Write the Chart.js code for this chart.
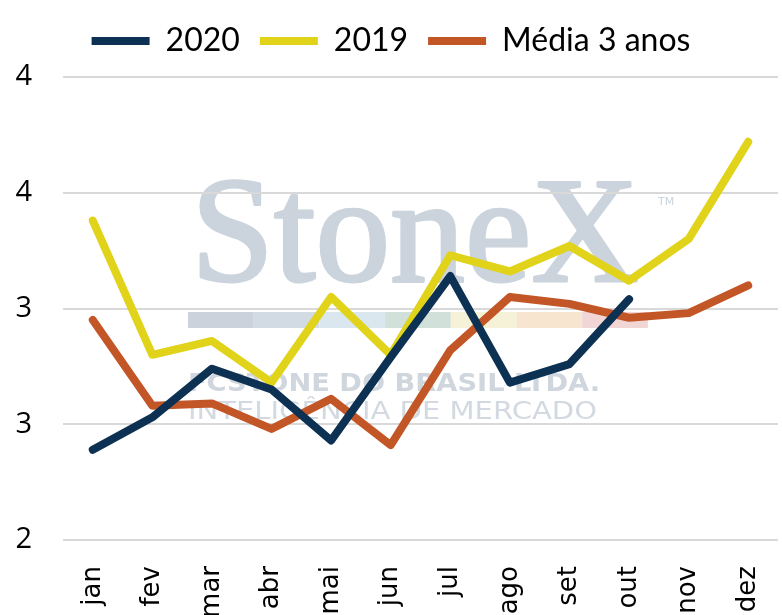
<!DOCTYPE html>
<html>
<head>
<meta charset="utf-8">
<script src="https://cdn.jsdelivr.net/npm/chart.js@4.4.1/dist/chart.umd.min.js"></script>
<style>
  html, body { margin: 0; padding: 0; background: #fff; overflow: hidden; }
  #wrap { width: 782px; height: 615px; }
</style>
</head>
<body>
<div id="wrap"><canvas id="grafico"></canvas></div>
<script>
// ============ DADOS ============
const meses = ['jan', 'fev', 'mar', 'abr', 'mai', 'jun', 'jul', 'ago', 'set', 'out', 'nov', 'dez'];
const serie2020 = [2.39, 2.53, 2.74, 2.65, 2.43, 2.79, 3.14, 2.68, 2.76, 3.04, null, null];
const serie2019 = [3.38, 2.80, 2.86, 2.68, 3.05, 2.80, 3.23, 3.16, 3.27, 3.12, 3.30, 3.72];
const media3anos = [2.95, 2.58, 2.59, 2.48, 2.61, 2.41, 2.82, 3.05, 3.02, 2.96, 2.98, 3.10];
const yTicks = [2, 2.5, 3, 3.5, 4];
const yTickLabels = ['2', '3', '3', '4', '4'];

// ============ MARCA D'ÁGUA ============
// desenhada antes da grade, como uma imagem de fundo
const marcaDagua = {
    id: 'marcaDagua',
    beforeDraw(chart) {
        const ctx = chart.ctx;
        ctx.save();
        ctx.fillStyle = '#cbd3dc';
        ctx.strokeStyle = '#cbd3dc';
        ctx.lineWidth = 3;
        ctx.lineJoin = 'round';
        ctx.textBaseline = 'alphabetic';
        ctx.textAlign = 'left';
        ctx.font = '150px "Liberation Serif"';
        const w = ctx.measureText('StoneX').width;
        ctx.translate(191, 281);
        ctx.scale(448 / w, 1);
        ctx.fillText('StoneX', 0, 0);
        ctx.strokeText('StoneX', 0, 0);
        ctx.restore();

        ctx.save();
        ctx.fillStyle = '#cbd3dc';
        ctx.font = '11px "DejaVu Sans"';
        ctx.fillText('TM', 658, 202);

        // faixa colorida
        const cores = ['#cbd2db', '#d2dbe4', '#dae7ef', '#d1e0d8', '#f6f2d8', '#f7e5cf', '#f2d6d6'];
        cores.forEach((c, i) => {
            ctx.fillStyle = c;
            ctx.fillRect(188 + i * 65.7, 312, 65.7, 16);
        });

        const linhas = [
            ['FCSTONE DO BRASIL LTDA.', 'bold 24px "DejaVu Sans"', 385, 412, '#d0d6de'],
            ['INTELIGÊNCIA DE MERCADO', '24px "DejaVu Sans"', 413, 409, '#d3d9e0']
        ];
        linhas.forEach(([txt, fonte, y, largura, cor]) => {
            ctx.save();
            ctx.font = fonte;
            ctx.fillStyle = cor;
            const m = ctx.measureText(txt).width;
            ctx.translate(188, y);
            ctx.scale(largura / m, 1);
            ctx.fillText(txt, 0, 0);
            ctx.restore();
        });
        ctx.restore();
    }
};

// ============ GRÁFICO ============
const ctx = document.getElementById('grafico').getContext('2d');
const estiloLinha = {
    borderWidth: 8,
    pointRadius: 0,
    pointHoverRadius: 0,
    tension: 0,
    borderCapStyle: 'round',
    borderJoinStyle: 'round',
    fill: false,
    spanGaps: false
};

const chart = new Chart(ctx, {
    type: 'line',
    data: {
        labels: meses,
        datasets: [
            { label: '2020', data: serie2020, borderColor: '#0d3152', backgroundColor: '#0d3152', ...estiloLinha },
            { label: '2019', data: serie2019, borderColor: '#e0d31a', backgroundColor: '#e0d31a', ...estiloLinha },
            { label: 'Média 3 anos', data: media3anos, borderColor: '#c35626', backgroundColor: '#c35626', ...estiloLinha }
        ]
    },
    options: {
        responsive: true,
        maintainAspectRatio: false,
        animation: false,
        layout: { padding: { top: 5, right: 0, bottom: 0, left: 0 } },
        plugins: {
            legend: {
                position: 'top',
                labels: {
                    usePointStyle: true,
                    pointStyle: 'line',
                    pointStyleWidth: 58,
                    color: '#000',
                    padding: 20,
                    font: { family: 'Lato', size: 32 }
                }
            },
            tooltip: { enabled: false }
        },
        scales: {
            x: {
                offset: true,
                grid: { display: false },
                border: { display: false },
                afterFit(scale) {
                    scale.height = 75;
                    scale.paddingLeft = 0;
                    scale.paddingRight = 0;
                },
                ticks: {
                    color: '#000',
                    minRotation: 90,
                    maxRotation: 90,
                    autoSkip: false,
                    padding: 18,
                    font: { family: 'DejaVu Sans', size: 26 }
                }
            },
            y: {
                min: 2,
                max: 4,
                afterFit(scale) { scale.width = 63; },
                afterBuildTicks(scale) {
                    scale.ticks = yTicks.map(v => ({ value: v }));
                },
                grid: { color: '#d9d9d9', lineWidth: 2, drawTicks: false },
                border: { display: false },
                ticks: {
                    color: '#000',
                    padding: 31,
                    font: { family: 'Open Sans', size: 29 },
                    callback: function(value, index) { return yTickLabels[index]; }
                }
            }
        }
    },
    plugins: [marcaDagua]
});

// altura fixa da legenda para alinhar a área do gráfico
const fitOriginal = chart.legend.fit;
chart.legend.fit = function() {
    fitOriginal.call(this);
    this.height = 72;
};
chart.update();
</script>
</body>
</html>
